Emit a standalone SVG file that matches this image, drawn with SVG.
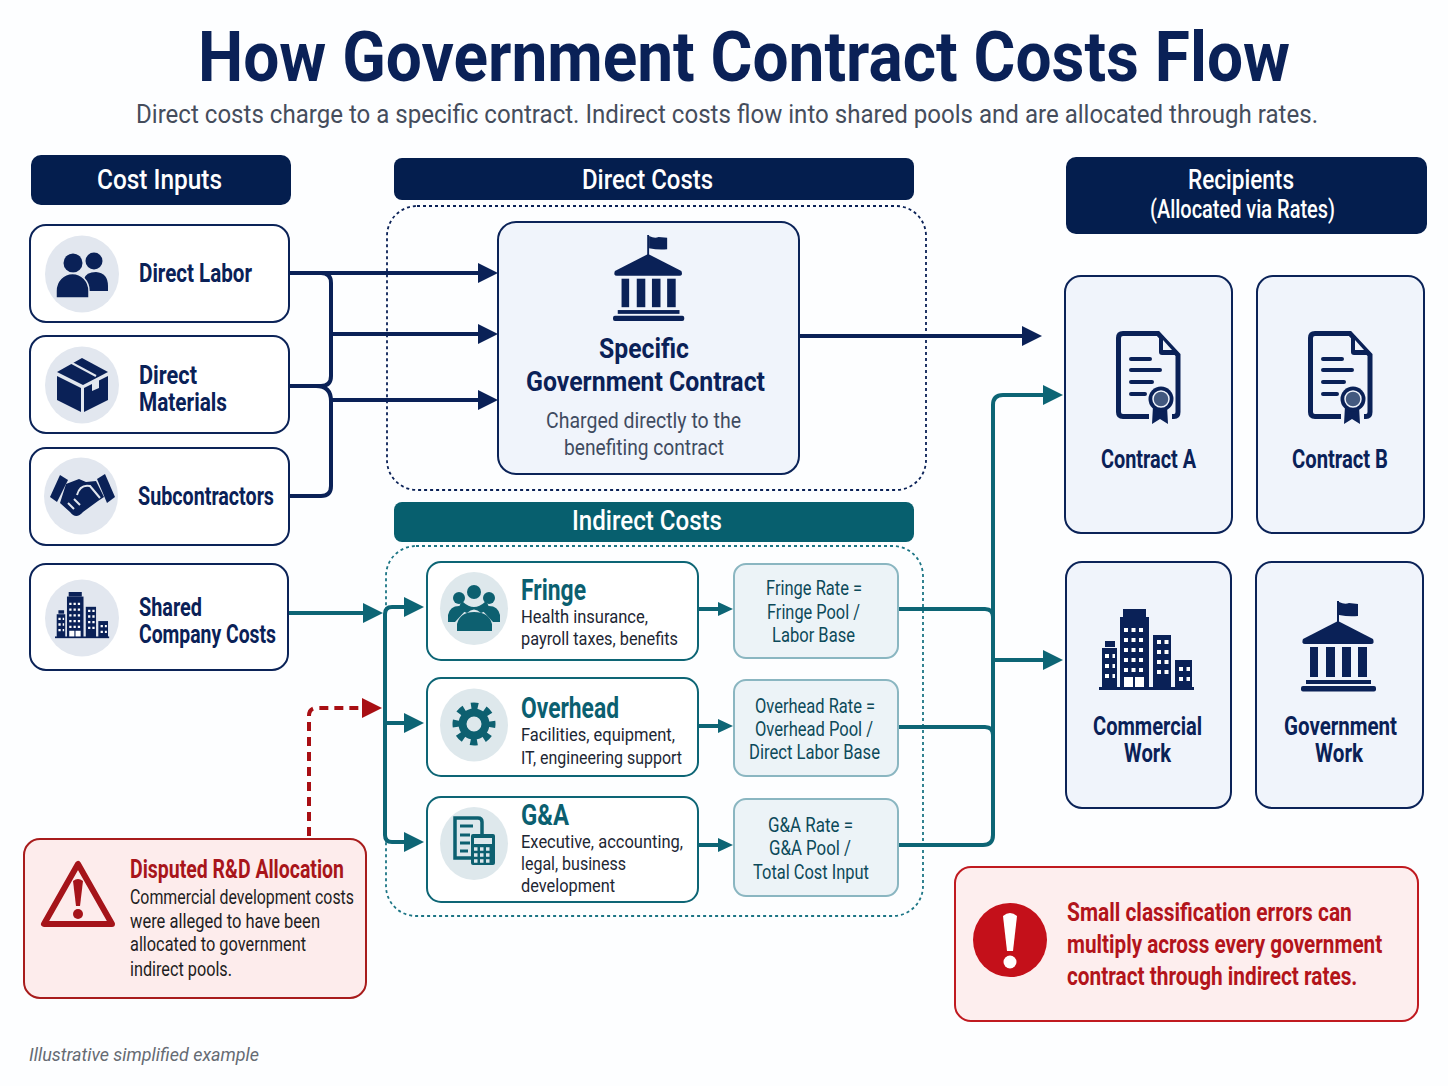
<svg xmlns="http://www.w3.org/2000/svg" xmlns:xlink="http://www.w3.org/1999/xlink" width="1448" height="1086" viewBox="0 0 1448 1086">
<style>
text{font-family:"Roboto","Liberation Sans",sans-serif}
.title{font-size:70px;font-weight:700;fill:#0a2157}
.sub{font-size:25px;fill:#454d5c}
.hd{font-size:27px;font-weight:500;fill:#fff}
.hd2{font-size:25px;font-weight:500;fill:#fff}
.lbl{font-size:25px;font-weight:700;fill:#0a2157}
.big{font-size:28px;font-weight:700;fill:#0a2157}
.desc{font-size:22px;fill:#3f4b60}
.pn{font-size:29px;font-weight:700;fill:#0b5f70}
.pd{font-size:19px;fill:#1d2633}
.rt{font-size:20px;fill:#0c4a5a}
.rn{font-size:25px;font-weight:700;fill:#a8151a}
.rd{font-size:19.5px;fill:#1d1d22}
.al{font-size:26px;font-weight:700;fill:#b3141b}
.foot{font-size:18px;font-style:italic;fill:#666b73}
.hbar{fill:#041e4e}
.card{fill:#fff;stroke:#0b2358;stroke-width:2}
.rcp{fill:#f0f4fb;stroke:#0b2358;stroke-width:2}
.pool{fill:#fff;stroke:#0d6575;stroke-width:2}
.rate{fill:#ecf3f7;stroke:#8ab6c1;stroke-width:2}
.ci{fill:#e2e7ef}
.cit{fill:#deE8ec}
.nv{fill:#0a2157}
.tl{fill:#0d6070}
.cn{fill:none;stroke:#0a2157;stroke-width:4}
.ct{fill:none;stroke:#0d6575;stroke-width:4}
</style>
<defs>
<marker id="an" markerUnits="userSpaceOnUse" markerWidth="20" markerHeight="22" refX="1" refY="11" orient="auto"><path d="M0 1L20 11L0 21Z" fill="#0a2157"/></marker>
<marker id="at" markerUnits="userSpaceOnUse" markerWidth="20" markerHeight="22" refX="1" refY="11" orient="auto"><path d="M0 1L20 11L0 21Z" fill="#0d6575"/></marker>
<marker id="ats" markerUnits="userSpaceOnUse" markerWidth="16" markerHeight="18" refX="1" refY="9" orient="auto"><path d="M0 2L15 9L0 16Z" fill="#0d6575"/></marker>
<marker id="ar" markerUnits="userSpaceOnUse" markerWidth="20" markerHeight="22" refX="1" refY="11" orient="auto"><path d="M0 1L20 11L0 21Z" fill="#a80f14"/></marker>
<g id="temple" fill="#0a2157">
<path d="M36 0h2v22h-2z"/><path d="M38 1q6 3 10 1l9 1v12q-9 1-19-1z"/>
<path d="M37 20L72 38Q74 43 70 43H4Q0 43 2 38Z"/>
<rect x="9" y="46" width="8" height="30"/><rect x="25" y="46" width="9" height="30"/><rect x="41" y="46" width="9" height="30"/><rect x="57" y="46" width="9" height="30"/>
<rect x="5" y="79" width="65" height="4"/><rect y="85" width="75" height="5.500" rx="2"/>
</g>
<g id="doc">
<path d="M33 85.500H7Q2.500 85.500 2.500 81V7Q2.500 2.500 7 2.500H42L62 24V81Q62 85.500 58 85.500H56" fill="none" stroke="#0a2157" stroke-width="5"/>
<path d="M43 3L62 24H46Q43 24 43 21Z" fill="#0a2157"/><path d="M47 9V19H56Z" fill="#f0f4fb"/>
<g stroke="#0a2157" stroke-width="4" stroke-linecap="round"><path d="M15 28H34M15 39H44M15 51H36M15 63H29"/></g>
<path d="M37 75L36 93L44 88L52 93L51 75Z" fill="#0a2157"/>
<circle cx="45" cy="68" r="12.500" fill="#0a2157"/><circle cx="45" cy="68" r="8" fill="#43597f" stroke="#f0f4fb" stroke-width="1.500"/>
</g>
<g id="bld">
<rect y="78" width="95" height="3" fill="#0a2157"/>
<g fill="#0a2157"><rect x="24" width="23" height="8"/><rect x="21" y="8" width="29" height="72"/><rect x="6" y="32" width="10" height="6"/><rect x="3" y="39" width="15" height="40"/><rect x="54" y="26" width="18" height="53"/><rect x="76" y="51" width="17" height="28"/></g>
<g stroke="#fff" stroke-width="4" stroke-dasharray="4 3.500" fill="none">
<path d="M25 21H47M25 31H47M25 41H47M25 51H47M25 61H47"/><path d="M6 47H16M6 57H16M6 67H16"/><path d="M58 33H70M58 43H70M58 53H70M58 63H70"/><path d="M80 60H91M80 70H91"/></g>
<rect x="25" y="68" width="9" height="10" fill="#fff"/><rect x="36" y="68" width="9" height="10" fill="#fff"/>
</g>
</defs>
<rect width="1448" height="1086" fill="#fdfeff"/>

<text class="title" x="198" y="81" textLength="1092" lengthAdjust="spacingAndGlyphs">How Government Contract Costs Flow</text>
<text class="sub" x="136" y="123" textLength="1182" lengthAdjust="spacingAndGlyphs">Direct costs charge to a specific contract. Indirect costs flow into shared pools and are allocated through rates.</text>

<g id="header-cost-inputs"><rect class="hbar" x="31" y="155" width="260" height="50" rx="10"/><text class="hd" x="97" y="189" textLength="125" lengthAdjust="spacingAndGlyphs">Cost Inputs</text></g>
<g id="header-direct"><rect class="hbar" x="394" y="158" width="520" height="42" rx="8"/><text class="hd" x="582" y="189" textLength="131" lengthAdjust="spacingAndGlyphs">Direct Costs</text></g>
<g id="header-recipients"><rect class="hbar" x="1066" y="157" width="361" height="77" rx="10"/><text class="hd" x="1188" y="189" textLength="106" lengthAdjust="spacingAndGlyphs">Recipients</text><text class="hd2" x="1150" y="218" textLength="185" lengthAdjust="spacingAndGlyphs">(Allocated via Rates)</text></g>
<g id="header-indirect"><rect x="394" y="502" width="520" height="40" rx="8" fill="#075f6e"/><text class="hd" x="572" y="530" textLength="150" lengthAdjust="spacingAndGlyphs">Indirect Costs</text></g>

<g id="direct-region"><rect x="387" y="206" width="539" height="284" rx="30" fill="none" stroke="#0a2157" stroke-width="1.800" stroke-dasharray="3 3"/></g>
<g id="indirect-region"><rect x="386" y="546" width="537" height="370" rx="30" fill="none" stroke="#1c7585" stroke-width="1.800" stroke-dasharray="3 3"/></g>

<g id="connectors">
<path class="cn" d="M289 273H479" marker-end="url(#an)"/>
<path class="cn" d="M321 273Q331 273 331 283V376Q331 386 321 386H289"/>
<path class="cn" d="M289 386H316Q331 386 331 401V486Q331 496 321 496H289"/>
<path class="cn" d="M331 334H479" marker-end="url(#an)"/>
<path class="cn" d="M331 400H479" marker-end="url(#an)"/>
<path class="cn" d="M800 336H1023" marker-end="url(#an)"/>
<path class="ct" d="M288 613H364" marker-end="url(#at)"/>
<path class="ct" d="M405 607H392Q385 607 385 614V835Q385 842 392 842H405" />
<path class="ct" d="M392 607H405" marker-end="url(#at)"/>
<path class="ct" d="M385 723H405" marker-end="url(#at)"/>
<path class="ct" d="M392 842H405" marker-end="url(#at)"/>
<path class="ct" d="M698 609H719" marker-end="url(#ats)"/>
<path class="ct" d="M698 726H719" marker-end="url(#ats)"/>
<path class="ct" d="M698 845H719" marker-end="url(#ats)"/>
<path class="ct" d="M898 609H985Q993 609 993 617"/>
<path class="ct" d="M898 727H985Q993 727 993 735"/>
<path class="ct" d="M898 845H983Q993 845 993 835V405Q993 395 1003 395H1044" marker-end="url(#at)"/>
<path class="ct" d="M993 660H1044" marker-end="url(#at)"/>
<path d="M309 836V716Q309 708 317 708H363" fill="none" stroke="#a80f14" stroke-width="4" stroke-dasharray="9 6" marker-end="url(#ar)"/>
</g>

<g id="node-direct-labor"><rect class="card" x="30" y="225" width="259" height="97" rx="16"/><ellipse class="ci" cx="82" cy="274" rx="37" ry="38.500"/>
<circle class="nv" cx="94" cy="261" r="8.500"/><path class="nv" d="M84 291V279Q86 272 96 272Q108 273 108 286V291Z"/><circle class="nv" cx="73" cy="263" r="9.500"/><path d="M56 298V291A16 17 0 0 1 89 291V298Z" fill="#0a2157" stroke="#e2e7ef" stroke-width="1.500"/>
<text class="lbl" x="139" y="282" textLength="113" lengthAdjust="spacingAndGlyphs">Direct Labor</text></g>

<g id="node-direct-materials"><rect class="card" x="30" y="336" width="259" height="97" rx="16"/><ellipse class="ci" cx="82" cy="385" rx="37" ry="38.500"/>
<path class="nv" d="M57 376L81 388V412L57 400Z"/><path class="nv" d="M84 388L108 376V400L84 412Z"/><path class="nv" d="M57 372L82 358L108 372L83 385Z"/><path d="M70 362L96 376" stroke="#e2e7ef" stroke-width="2" fill="none"/><path d="M92 381L99 378V388L92 391Z" fill="#e2e7ef"/>
<text class="lbl" x="139" y="384" textLength="58" lengthAdjust="spacingAndGlyphs">Direct</text><text class="lbl" x="139" y="411" textLength="88" lengthAdjust="spacingAndGlyphs">Materials</text></g>

<g id="node-subcontractors"><rect class="card" x="30" y="448" width="259" height="97" rx="16"/><ellipse class="ci" cx="81" cy="496" rx="37" ry="38.500"/>
<path class="nv" d="M50 497L60 475L68 480L57 502Z"/><path class="nv" d="M97 479L105 474L115 497L107 503Z"/>
<path class="nv" d="M66 484L79 479L86 482L96 481L104 497L98 501L83 512Q76 520 70 512L60 503Z"/>
<path d="M77 495Q80 484 90 486L100 498M68 503L74 509M74 499L80 505" fill="none" stroke="#e2e7ef" stroke-width="2"/>
<text class="lbl" x="138" y="505" textLength="136" lengthAdjust="spacingAndGlyphs">Subcontractors</text></g>

<g id="node-shared"><rect class="card" x="30" y="564" width="258" height="106" rx="16"/><ellipse class="ci" cx="82" cy="618" rx="37" ry="38.500"/>
<use xlink:href="#bld" href="#bld" transform="translate(55 592) scale(.57)"/>
<text class="lbl" x="139" y="616" textLength="63" lengthAdjust="spacingAndGlyphs">Shared</text><text class="lbl" x="139" y="643" textLength="137" lengthAdjust="spacingAndGlyphs">Company Costs</text></g>

<g id="node-specific"><rect class="rcp" x="498" y="222" width="301" height="252" rx="18"/>
<use xlink:href="#temple" href="#temple" transform="translate(613 235) scale(.95)"/>
<text class="big" x="599" y="358" textLength="90" lengthAdjust="spacingAndGlyphs">Specific</text><text class="big" x="526" y="391" textLength="239" lengthAdjust="spacingAndGlyphs">Government Contract</text>
<text class="desc" x="546" y="428" textLength="195" lengthAdjust="spacingAndGlyphs">Charged directly to the</text><text class="desc" x="564" y="455" textLength="160" lengthAdjust="spacingAndGlyphs">benefiting contract</text></g>

<g id="node-fringe"><rect class="pool" x="427" y="562" width="271" height="98" rx="14"/><ellipse class="cit" cx="474" cy="608.500" rx="34" ry="36.500"/>
<circle class="tl" cx="459" cy="598" r="6"/><circle class="tl" cx="489" cy="598" r="6"/><path class="tl" d="M448 622V615Q450 606 459 606Q464 606 467 609L455 622Z"/><path class="tl" d="M500 622V615Q498 606 489 606Q484 606 481 609L493 622Z"/>
<circle class="tl" cx="474" cy="592" r="7"/><path class="tl" d="M463 602Q474 612 485 602Q490 604 488 610L481 613Q474 606 467 613L460 610Q458 604 463 602Z"/><path class="tl" d="M457 631V624Q460 612 474 612Q489 612 492 624V631Z"/>
<text class="pn" x="521" y="600" textLength="65" lengthAdjust="spacingAndGlyphs">Fringe</text><text class="pd" x="521" y="623" textLength="127" lengthAdjust="spacingAndGlyphs">Health insurance,</text><text class="pd" x="521" y="645" textLength="157" lengthAdjust="spacingAndGlyphs">payroll taxes, benefits</text></g>

<g id="node-overhead"><rect class="pool" x="427" y="678" width="271" height="98" rx="14"/><ellipse class="cit" cx="474" cy="725" rx="34" ry="36.500"/>
<circle cx="474" cy="724" r="18" fill="none" stroke="#0d6070" stroke-width="7" stroke-dasharray="7 7.140" stroke-dashoffset="3.500"/><circle cx="474" cy="724" r="11.500" fill="none" stroke="#0d6070" stroke-width="8"/>
<text class="pn" x="521" y="718" textLength="98" lengthAdjust="spacingAndGlyphs">Overhead</text><text class="pd" x="521" y="741" textLength="154" lengthAdjust="spacingAndGlyphs">Facilities, equipment,</text><text class="pd" x="521" y="764" textLength="161" lengthAdjust="spacingAndGlyphs">IT, engineering support</text></g>

<g id="node-ga"><rect class="pool" x="427" y="797" width="271" height="105" rx="14"/><ellipse class="cit" cx="474" cy="843.500" rx="34" ry="36.500"/>
<path d="M471 858H455V818H478Q482 818 482 822V834" fill="none" stroke="#0d6070" stroke-width="3.500"/><path d="M460 826H473M460 835H470M460 843H470M460 851H468" stroke="#0d6070" stroke-width="3" fill="none"/>
<rect class="tl" x="471" y="834" width="24" height="31" rx="2"/><rect x="474" y="838" width="18" height="6" fill="#deE8ec"/><g fill="none" stroke="#deE8ec" stroke-width="3.500" stroke-dasharray="3.500 2.500"><path d="M474 849H492M474 855H492M474 861H492"/></g>
<text class="pn" x="521" y="825" textLength="48" lengthAdjust="spacingAndGlyphs">G&amp;A</text><text class="pd" x="521" y="848" textLength="162" lengthAdjust="spacingAndGlyphs">Executive, accounting,</text><text class="pd" x="521" y="870" textLength="105" lengthAdjust="spacingAndGlyphs">legal, business</text><text class="pd" x="521" y="892" textLength="94" lengthAdjust="spacingAndGlyphs">development</text></g>

<g id="rate-fringe"><rect class="rate" x="734" y="564" width="164" height="94" rx="12"/><text class="rt" x="766" y="595" textLength="96" lengthAdjust="spacingAndGlyphs">Fringe Rate =</text><text class="rt" x="767" y="619" textLength="93" lengthAdjust="spacingAndGlyphs">Fringe Pool /</text><text class="rt" x="772" y="642" textLength="83" lengthAdjust="spacingAndGlyphs">Labor Base</text></g>
<g id="rate-overhead"><rect class="rate" x="734" y="680" width="164" height="96" rx="12"/><text class="rt" x="755" y="713" textLength="120" lengthAdjust="spacingAndGlyphs">Overhead Rate =</text><text class="rt" x="755" y="736" textLength="118" lengthAdjust="spacingAndGlyphs">Overhead Pool /</text><text class="rt" x="749" y="759" textLength="131" lengthAdjust="spacingAndGlyphs">Direct Labor Base</text></g>
<g id="rate-ga"><rect class="rate" x="734" y="799" width="164" height="97" rx="12"/><text class="rt" x="768" y="832" textLength="85" lengthAdjust="spacingAndGlyphs">G&amp;A Rate =</text><text class="rt" x="769" y="855" textLength="82" lengthAdjust="spacingAndGlyphs">G&amp;A Pool /</text><text class="rt" x="753" y="879" textLength="116" lengthAdjust="spacingAndGlyphs">Total Cost Input</text></g>

<g id="node-contract-a"><rect class="rcp" x="1065" y="276" width="167" height="257" rx="16"/><use xlink:href="#doc" href="#doc" transform="translate(1116 331)"/><text class="lbl" x="1101" y="468" textLength="95" lengthAdjust="spacingAndGlyphs">Contract A</text></g>
<g id="node-contract-b"><rect class="rcp" x="1257" y="276" width="167" height="257" rx="16"/><use xlink:href="#doc" href="#doc" transform="translate(1308 331)"/><text class="lbl" x="1292" y="468" textLength="96" lengthAdjust="spacingAndGlyphs">Contract B</text></g>
<g id="node-commercial"><rect class="rcp" x="1066" y="562" width="165" height="246" rx="16"/><use xlink:href="#bld" href="#bld" transform="translate(1099 609)"/><text class="lbl" x="1093" y="735" textLength="109" lengthAdjust="spacingAndGlyphs">Commercial</text><text class="lbl" x="1124" y="762" textLength="47" lengthAdjust="spacingAndGlyphs">Work</text></g>
<g id="node-government"><rect class="rcp" x="1256" y="562" width="167" height="246" rx="16"/><use xlink:href="#temple" href="#temple" transform="translate(1301 601)"/><text class="lbl" x="1284" y="735" textLength="113" lengthAdjust="spacingAndGlyphs">Government</text><text class="lbl" x="1315" y="762" textLength="48" lengthAdjust="spacingAndGlyphs">Work</text></g>

<g id="node-disputed"><rect x="24" y="839" width="342" height="159" rx="16" fill="#fdecec" stroke="#a81c1c" stroke-width="2"/>
<path d="M78 864L44 924H112Z" fill="none" stroke="#a5141a" stroke-width="6" stroke-linejoin="round"/><path d="M73 881Q78 877 83 881L80 906H76Z" fill="#a5141a"/><circle cx="78" cy="914" r="5" fill="#a5141a"/>
<text class="rn" x="130" y="878" textLength="214" lengthAdjust="spacingAndGlyphs">Disputed R&amp;D Allocation</text><text class="rd" x="130" y="904" textLength="224" lengthAdjust="spacingAndGlyphs">Commercial development costs</text><text class="rd" x="130" y="928" textLength="190" lengthAdjust="spacingAndGlyphs">were alleged to have been</text><text class="rd" x="130" y="951" textLength="176" lengthAdjust="spacingAndGlyphs">allocated to government</text><text class="rd" x="130" y="976" textLength="102" lengthAdjust="spacingAndGlyphs">indirect pools.</text></g>

<g id="node-alert"><rect x="955" y="867" width="463" height="154" rx="16" fill="#fdeeee" stroke="#c01a20" stroke-width="2"/><circle cx="1010" cy="940" r="37" fill="#c4101a"/><path d="M1003 916Q1010 910 1017 916L1013 951H1007Z" fill="#fff"/><circle cx="1010" cy="962" r="6.500" fill="#fff"/>
<text class="al" transform="translate(1067 921) scale(.8 1)" textLength="356" lengthAdjust="spacingAndGlyphs">Small classification errors can</text><text class="al" transform="translate(1067 953) scale(.8 1)" textLength="394" lengthAdjust="spacingAndGlyphs">multiply across every government</text><text class="al" transform="translate(1067 985) scale(.8 1)" textLength="363" lengthAdjust="spacingAndGlyphs">contract through indirect rates.</text></g>

<text class="foot" x="29" y="1061" textLength="230" lengthAdjust="spacingAndGlyphs">Illustrative simplified example</text>
</svg>
